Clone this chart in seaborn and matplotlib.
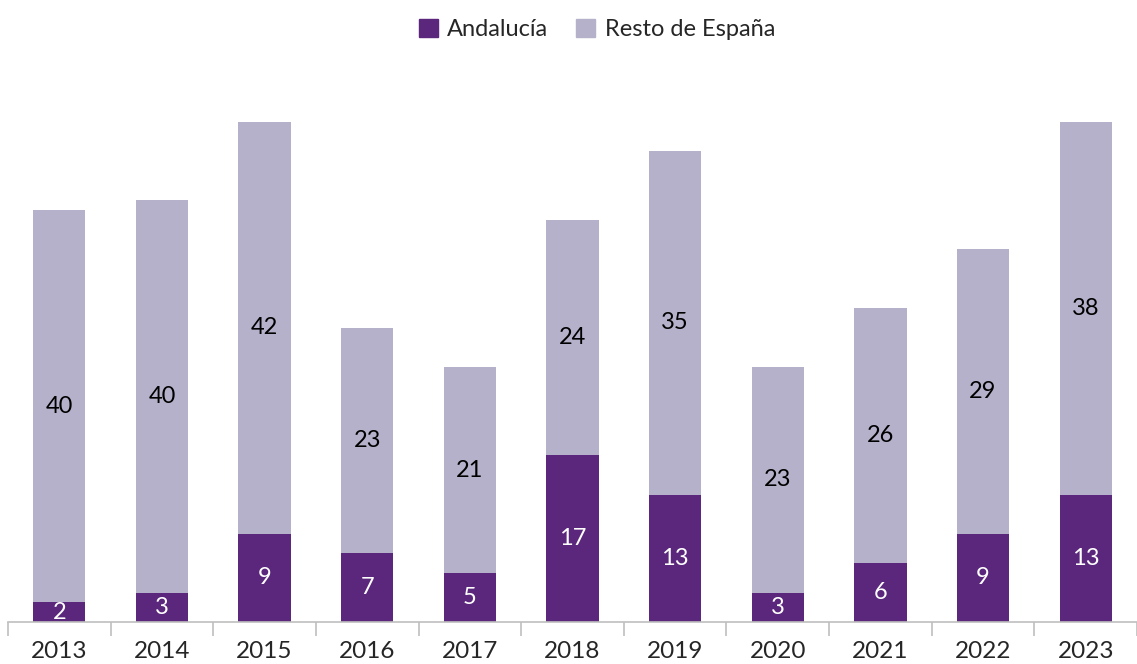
import pandas as pd
import numpy as np
from matplotlib import pyplot as plt
from matplotlib.patches import Patch
import seaborn as sns

# Data
years = ["2013", "2014", "2015", "2016", "2017", "2018", "2019", "2020", "2021", "2022", "2023"]
andalucia = [2, 3, 9, 7, 5, 17, 13, 3, 6, 9, 13]
resto = [40, 40, 42, 23, 21, 24, 35, 23, 26, 29, 38]

dark = "#5B277C"
light = "#B5B1CB"

df = pd.DataFrame({"year": years, "andalucia": andalucia, "resto": resto})
df["total"] = df["andalucia"] + df["resto"]

sns.set_style("white")
plt.rcParams["font.family"] = ["Lato", "DejaVu Sans"]

fig = plt.figure(figsize=(11.37, 6.64), dpi=100)
ax = fig.add_axes([8 / 1137, 42 / 664, 1 - 8 / 1137, 549 / 664])

# Stacked bars: total first (light), Andalucía on top of it (dark)
sns.barplot(data=df, x="year", y="total", color=light, width=0.51, saturation=1,
            linewidth=0, ax=ax)
sns.barplot(data=df, x="year", y="andalucia", color=dark, width=0.51, saturation=1,
            linewidth=0, ax=ax)

# Value labels centred in each segment
for i, row in df.iterrows():
    ax.text(i, row["andalucia"] / 2, str(row["andalucia"]), ha="center", va="center",
            color="white", fontsize=17)
    ax.text(i, row["andalucia"] + row["resto"] / 2, str(row["resto"]), ha="center",
            va="center", color="black", fontsize=17)

ax.set_xlim(-0.5, len(years) - 0.5)
ax.set_ylim(0, 56)
ax.set_xlabel("")
ax.set_ylabel("")
ax.set_yticks([])

for side in ["top", "right", "left"]:
    ax.spines[side].set_visible(False)
ax.spines["bottom"].set_color("#BFBFBF")
ax.spines["bottom"].set_linewidth(1.2)

# Ticks between categories, labels centred under bars
ax.set_xticks(np.arange(-0.5, len(years)), minor=True)
ax.tick_params(axis="x", which="minor", bottom=True, length=10, width=1.2,
               color="#BFBFBF", direction="out")
ax.tick_params(axis="x", which="major", length=0, pad=14, labelsize=17.5)

handles = [Patch(color=dark, label="Andalucía"), Patch(color=light, label="Resto de España")]
fig.legend(handles=handles, loc="upper center", bbox_to_anchor=(0.525, 1.003), ncol=2,
           frameon=False, fontsize=17, handlelength=0.8, handleheight=0.8,
           handletextpad=0.4, columnspacing=1.2)

fig.savefig("out.png", dpi=100)
